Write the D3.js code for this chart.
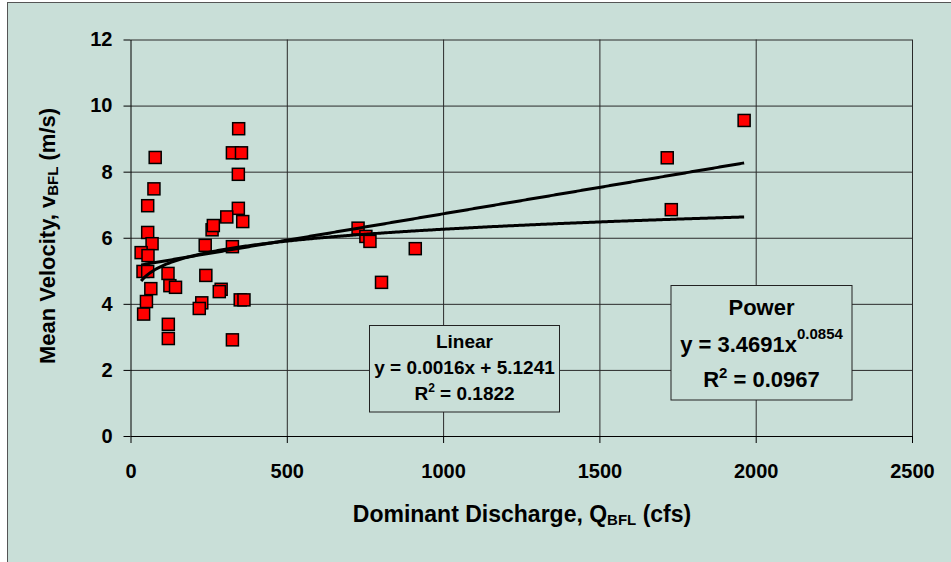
<!DOCTYPE html>
<html>
<head>
<meta charset="utf-8">
<script src="https://cdn.jsdelivr.net/npm/d3@7"></script>
<style>
  body { margin: 0; background: #fff; }
  svg { display: block; font-family: "Liberation Sans", Arial, sans-serif; font-weight: bold; }
  .grid line { stroke: #2a2a2a; }
  .grid path { display: none; }
  .axis path, .axis line { stroke: #000; }
  .axis text { font-size: 20px; font-weight: bold; fill: #000; font-family: "Liberation Sans", Arial, sans-serif; }
</style>
</head>
<body>
<svg></svg>
<script>
// dominant discharge (cfs) and mean velocity (m/s)
var discharge = [346, 79, 326, 355, 345, 75, 55, 345, 308, 359, 261, 265, 55, 69, 239, 326,
                 34, 56, 40, 55, 120, 241, 65, 126, 144, 290, 284, 51, 228, 220, 351, 363,
                 42, 121, 121, 326, 728, 753, 766, 911, 803, 1717, 1730, 1963];
var velocity = [9.30, 8.43, 8.57, 8.57, 7.92, 7.48, 6.97, 6.89, 6.63, 6.49, 6.24, 6.37, 6.16, 5.82, 5.77, 5.73,
                5.55, 5.46, 4.98, 4.98, 4.92, 4.86, 4.46, 4.55, 4.50, 4.44, 4.37, 4.07, 4.03, 3.86, 4.12, 4.12,
                3.69, 3.38, 2.95, 2.91, 6.29, 6.04, 5.89, 5.67, 4.65, 8.42, 6.85, 9.55];

var xTicks = [0, 500, 1000, 1500, 2000, 2500];
var yTicks = [0, 2, 4, 6, 8, 10, 12];

// trendline equations as printed on the chart
var linearFit = [0.0016, 5.1241];
var linearR2 = "0.1822";
var powerFit = [3.4691, 0.0854];
var powerR2 = "0.0967";

(function () {
  var width = 951;
  var height = 562;
  var bg = "#c9dfd8";

  var svg = d3.select("svg")
        .attr("width", width)
        .attr("height", height);

  // chart area
  svg.append("rect")
    .attr("x", 7.5).attr("y", 2.5)
    .attr("width", 960).attr("height", 580)
    .attr("fill", bg)
    .attr("stroke", "#555");

  var margin = {top: 39.5, right: 39, bottom: 126, left: 130.5};
  var plot_width = width - margin.left - margin.right;
  var plot_height = height - margin.top - margin.bottom;
  var g = svg.append("g").attr("transform", "translate(" + margin.left + "," + margin.top + ")");

  var x = d3.scaleLinear().domain([0, 2500]).range([0, plot_width]);
  var y = d3.scaleLinear().domain([0, 12]).range([plot_height, 0]);

  // gridlines
  g.append("g")
    .attr("class", "grid")
    .call(d3.axisLeft(y).tickValues(yTicks.slice(1)).tickSize(-plot_width).tickFormat(""));
  g.append("g")
    .attr("class", "grid")
    .call(d3.axisTop(x).tickValues(xTicks.slice(1)).tickSize(-plot_height).tickFormat(""));

  g.append("g")
    .attr("class", "axis axis--x")
    .attr("transform", "translate(0," + plot_height + ")")
    .call(d3.axisBottom(x).tickValues(xTicks).tickFormat(d3.format("d"))
          .tickSizeInner(7).tickSizeOuter(0).tickPadding(21));

  g.append("g")
    .attr("class", "axis axis--y")
    .call(d3.axisLeft(y).tickValues(yTicks).tickFormat(d3.format("d"))
          .tickSizeInner(7).tickSizeOuter(0).tickPadding(11));

  var data = discharge.map(function (q, i) { return {q: q, v: velocity[i]}; });

  g.selectAll(".pt")
    .data(data)
    .enter().append("rect")
    .attr("class", "pt")
    .attr("x", function (d) { return x(d.q) - 6; })
    .attr("y", function (d) { return y(d.v) - 6; })
    .attr("width", 12)
    .attr("height", 12)
    .attr("fill", "#ff0000")
    .attr("stroke", "#000")
    .attr("stroke-width", 1.5);

  // trendlines over the data range
  var qmin = d3.min(discharge), qmax = d3.max(discharge);
  var qs = d3.range(qmin, qmax, 5).concat([qmax]);
  var line = d3.line()
        .x(function (d) { return x(d[0]); })
        .y(function (d) { return y(d[1]); });

  g.append("path")
    .datum(qs.map(function (q) { return [q, linearFit[0] * q + linearFit[1]]; }))
    .attr("d", line)
    .attr("fill", "none")
    .attr("stroke", "#000")
    .attr("stroke-width", 3);

  g.append("path")
    .datum(qs.map(function (q) { return [q, powerFit[0] * Math.pow(q, powerFit[1])]; }))
    .attr("d", line)
    .attr("fill", "none")
    .attr("stroke", "#000")
    .attr("stroke-width", 3);

  // axis titles
  var xt = svg.append("text")
    .attr("x", 522).attr("y", 521.5)
    .attr("text-anchor", "middle")
    .style("font-size", "23px");
  xt.append("tspan").text("Dominant Discharge, Q");
  xt.append("tspan").attr("dy", 3).style("font-size", "15px").text("BFL");
  xt.append("tspan").attr("dy", -3).text(" (cfs)");

  var yt = svg.append("text")
    .attr("transform", "translate(55,236) rotate(-90)")
    .attr("text-anchor", "middle")
    .style("font-size", "22px");
  yt.append("tspan").text("Mean Velocity, v");
  yt.append("tspan").attr("dy", 3).style("font-size", "15px").text("BFL");
  yt.append("tspan").attr("dy", -3).text(" (m/s)");

  // equation boxes
  function box(x0, y0, w, h) {
    svg.append("rect")
      .attr("x", x0).attr("y", y0)
      .attr("width", w).attr("height", h)
      .attr("fill", bg)
      .attr("stroke", "#222");
  }

  box(369.5, 325.5, 190, 86.5);
  var lc = 464.5;
  svg.append("text").attr("x", lc).attr("y", 348).attr("text-anchor", "middle")
    .style("font-size", "19px").text("Linear");
  svg.append("text").attr("x", lc).attr("y", 373.5).attr("text-anchor", "middle")
    .style("font-size", "19px")
    .text("y = " + linearFit[0].toFixed(4) + "x + " + linearFit[1].toFixed(4));
  var lr = svg.append("text").attr("x", lc).attr("y", 399.5).attr("text-anchor", "middle")
    .style("font-size", "19px");
  lr.append("tspan").text("R");
  lr.append("tspan").attr("dy", -8).style("font-size", "12px").text("2");
  lr.append("tspan").attr("dy", 8).text(" = " + linearR2);

  box(671, 285.5, 181, 114.5);
  var pc = 761.5;
  svg.append("text").attr("x", pc).attr("y", 315).attr("text-anchor", "middle")
    .style("font-size", "22px").text("Power");
  var pe = svg.append("text").attr("x", pc).attr("y", 351.5).attr("text-anchor", "middle")
    .style("font-size", "22px");
  pe.append("tspan").text("y = " + powerFit[0].toFixed(4) + "x");
  pe.append("tspan").attr("dy", -13).style("font-size", "15px").text(powerFit[1].toFixed(4));
  var pr = svg.append("text").attr("x", pc).attr("y", 386.5).attr("text-anchor", "middle")
    .style("font-size", "22px");
  pr.append("tspan").text("R");
  pr.append("tspan").attr("dy", -9).style("font-size", "15px").text("2");
  pr.append("tspan").attr("dy", 9).text(" = " + powerR2);
})();
</script>
</body>
</html>
